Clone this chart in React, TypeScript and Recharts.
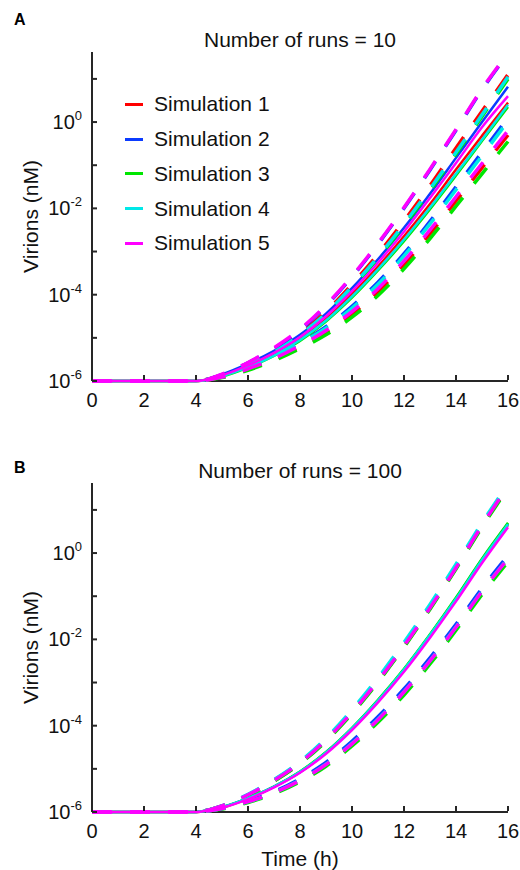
import { LineChart, Line, XAxis, YAxis, Legend, Label } from 'recharts';

const FONT = '"Liberation Sans", Arial, sans-serif';
const AXIS = '#262626';

const TIME = [0, 4, 4.5, 5, 6, 7, 8, 9, 10, 11, 12, 13, 14, 15, 16];
const X_TICKS = [0, 2, 4, 6, 8, 10, 12, 14, 16];
const Y_TICKS = [1e-6, 1e-5, 1e-4, 1e-3, 1e-2, 1e-1, 1, 10];

const SIM_NAMES = ['Simulation 1', 'Simulation 2', 'Simulation 3', 'Simulation 4', 'Simulation 5'];
const SIM_COLORS = ['#ff0000', '#0b3bff', '#00e600', '#00e8e8', '#ff00ff'];

// log10 of virions (nM), one row per simulation — panel A, 10 runs
const A_MEAN = [
  [-6, -6, -5.96, -5.88, -5.66, -5.38, -5.02, -4.56, -3.99, -3.35, -2.65, -1.9, -1.1, -0.32, 0.45],
  [-6, -6, -5.95, -5.85, -5.6, -5.3, -4.93, -4.44, -3.85, -3.18, -2.45, -1.66, -0.83, 0.0, 0.82],
  [-6, -6, -5.97, -5.9, -5.69, -5.42, -5.07, -4.62, -4.07, -3.44, -2.76, -2.02, -1.24, -0.44, 0.35],
  [-6, -6, -5.97, -5.89, -5.68, -5.41, -5.05, -4.6, -4.04, -3.41, -2.72, -1.98, -1.2, -0.41, 0.4],
  [-6, -6, -5.96, -5.87, -5.64, -5.35, -4.98, -4.5, -3.92, -3.26, -2.54, -1.76, -0.95, -0.12, 0.6],
];
const A_UPPER = [
  [-6, -6, -5.95, -5.86, -5.61, -5.3, -4.9, -4.39, -3.76, -3.06, -2.29, -1.47, -0.6, 0.25, 1.1],
  [-6, -6, -5.95, -5.85, -5.58, -5.25, -4.82, -4.26, -3.59, -2.83, -2.0, -1.11, -0.19, 0.75, 1.58],
  [-6, -6, -5.96, -5.88, -5.64, -5.34, -4.95, -4.45, -3.84, -3.15, -2.4, -1.59, -0.74, 0.13, 1.0],
  [-6, -6, -5.96, -5.87, -5.63, -5.33, -4.93, -4.43, -3.81, -3.12, -2.36, -1.55, -0.7, 0.17, 1.05],
  [-6, -6, -5.95, -5.84, -5.57, -5.23, -4.8, -4.24, -3.57, -2.81, -1.98, -1.09, -0.17, 0.77, 1.6],
];
const A_LOWER = [
  [-6, -6, -5.97, -5.91, -5.73, -5.5, -5.21, -4.87, -4.45, -3.93, -3.3, -2.59, -1.83, -1.06, -0.3],
  [-6, -6, -5.96, -5.89, -5.69, -5.43, -5.11, -4.74, -4.27, -3.71, -3.05, -2.3, -1.5, -0.7, 0.1],
  [-6, -6, -5.97, -5.92, -5.75, -5.53, -5.25, -4.93, -4.52, -4.02, -3.4, -2.7, -1.95, -1.2, -0.45],
  [-6, -6, -5.96, -5.9, -5.7, -5.45, -5.13, -4.77, -4.31, -3.76, -3.1, -2.36, -1.57, -0.78, 0.02],
  [-6, -6, -5.97, -5.91, -5.72, -5.48, -5.18, -4.83, -4.39, -3.86, -3.22, -2.5, -1.73, -0.96, -0.2],
];

// panel B, 100 runs
const B_MEAN = [
  [-6, -6, -5.96, -5.9, -5.69, -5.42, -5.08, -4.63, -4.08, -3.43, -2.72, -1.92, -1.08, -0.18, 0.65],
  [-6, -6, -5.96, -5.89, -5.68, -5.41, -5.07, -4.62, -4.06, -3.41, -2.7, -1.9, -1.05, -0.15, 0.68],
  [-6, -6, -5.96, -5.89, -5.68, -5.41, -5.06, -4.61, -4.05, -3.4, -2.68, -1.88, -1.03, -0.13, 0.7],
  [-6, -6, -5.96, -5.89, -5.68, -5.41, -5.07, -4.62, -4.06, -3.42, -2.7, -1.9, -1.06, -0.16, 0.67],
  [-6, -6, -5.96, -5.9, -5.7, -5.43, -5.09, -4.65, -4.1, -3.46, -2.75, -1.96, -1.12, -0.23, 0.6],
];
const B_UPPER = [
  [-6, -6, -5.95, -5.86, -5.61, -5.28, -4.87, -4.34, -3.7, -2.97, -2.16, -1.28, -0.35, 0.62, 1.53],
  [-6, -6, -5.95, -5.86, -5.6, -5.26, -4.85, -4.31, -3.66, -2.92, -2.11, -1.23, -0.3, 0.67, 1.57],
  [-6, -6, -5.95, -5.87, -5.62, -5.29, -4.88, -4.36, -3.72, -2.99, -2.18, -1.3, -0.37, 0.6, 1.5],
  [-6, -6, -5.95, -5.86, -5.59, -5.25, -4.83, -4.29, -3.63, -2.89, -2.07, -1.19, -0.26, 0.7, 1.6],
  [-6, -6, -5.95, -5.86, -5.6, -5.27, -4.86, -4.33, -3.69, -2.96, -2.15, -1.27, -0.34, 0.64, 1.55],
];
const B_LOWER = [
  [-6, -6, -5.97, -5.92, -5.76, -5.55, -5.26, -4.89, -4.41, -3.85, -3.21, -2.49, -1.71, -0.88, -0.12],
  [-6, -6, -5.97, -5.92, -5.75, -5.53, -5.23, -4.85, -4.36, -3.79, -3.15, -2.43, -1.65, -0.82, -0.06],
  [-6, -6, -5.97, -5.93, -5.78, -5.58, -5.3, -4.94, -4.47, -3.92, -3.29, -2.57, -1.79, -0.96, -0.2],
  [-6, -6, -5.97, -5.92, -5.76, -5.55, -5.26, -4.89, -4.41, -3.85, -3.21, -2.49, -1.71, -0.88, -0.12],
  [-6, -6, -5.97, -5.92, -5.76, -5.55, -5.27, -4.9, -4.42, -3.86, -3.22, -2.5, -1.72, -0.89, -0.13],
];

function buildRows(mean: number[][], upper: number[][], lower: number[][]) {
  return TIME.map((t, i) => {
    // `base` carries the x-axis baseline so it sits underneath the curves
    const row: Record<string, number> = { t, base: Y_TICKS[0] };
    SIM_NAMES.forEach((_, s) => {
      row[`m${s}`] = 10 ** mean[s][i];
      row[`u${s}`] = 10 ** upper[s][i];
      row[`l${s}`] = 10 ** lower[s][i];
    });
    return row;
  });
}

const YTick = ({ x, y, payload }: any) => {
  const exp = Math.round(Math.log10(payload.value));
  return (
    <g>
      <line x1={x} x2={x + 5} y1={y} y2={y} stroke={AXIS} strokeWidth={2} />
      {exp % 2 === 0 && (
        <text x={x - 10} y={y + 7} textAnchor="end" fontSize={20} fill="#111" fontFamily={FONT}>
          10
          <tspan dy={-9} fontSize={13}>
            {exp}
          </tspan>
        </text>
      )}
    </g>
  );
};

const XTick = ({ x, y, payload }: any) => (
  <g>
    <line x1={x} x2={x} y1={y - 1} y2={y - 6} stroke={AXIS} strokeWidth={2} />
    <text x={x} y={y + 26} textAnchor="middle" fontSize={20} fill="#111" fontFamily={FONT}>
      {payload.value}
    </text>
  </g>
);

const YLabel = ({ viewBox }: any) => {
  const cx = viewBox.x - 2;
  const cy = viewBox.y + viewBox.height / 2;
  return (
    <text
      x={cx}
      y={cy}
      transform={`rotate(-90 ${cx} ${cy})`}
      textAnchor="middle"
      dominantBaseline="central"
      fontSize={21}
      fill="#111"
      fontFamily={FONT}
    >
      Virions (nM)
    </text>
  );
};

const TimeLabel = ({ viewBox }: any) => (
  <text
    x={viewBox.x + viewBox.width / 2}
    y={viewBox.y + 46}
    textAnchor="middle"
    dominantBaseline="central"
    fontSize={21}
    fill="#111"
    fontFamily={FONT}
  >
    Time (h)
  </text>
);

const SimLegend = () => (
  <div style={{ fontFamily: FONT, fontSize: 21, color: '#111' }}>
    {SIM_NAMES.map((name, i) => (
      <div key={name} style={{ display: 'flex', alignItems: 'center', height: 34.75 }}>
        <span style={{ width: 18, height: 3, background: SIM_COLORS[i], marginRight: 11 }} />
        {name}
      </div>
    ))}
  </div>
);

function Panel({
  letter,
  title,
  rows,
  height,
  bottom,
  letterTop,
  showLegend,
  showTime,
}: {
  letter: string;
  title: string;
  rows: Record<string, number>[];
  height: number;
  bottom: number;
  letterTop: number;
  showLegend: boolean;
  showTime: boolean;
}) {
  return (
    <div style={{ position: 'relative', width: 520, height }}>
      <div
        style={{
          position: 'absolute',
          left: 14,
          top: letterTop,
          fontFamily: FONT,
          fontWeight: 700,
          fontSize: 16,
          lineHeight: '18px',
        }}
      >
        {letter}
      </div>
      <div
        style={{
          position: 'absolute',
          left: 92,
          width: 416,
          top: 28,
          textAlign: 'center',
          fontFamily: FONT,
          fontSize: 21,
          lineHeight: '24px',
          color: '#111',
        }}
      >
        {title}
      </div>
      <LineChart width={520} height={height} data={rows} margin={{ top: 52, right: 12, left: 32, bottom }}>
        <XAxis
          dataKey="t"
          type="number"
          domain={[0, 16]}
          ticks={X_TICKS}
          interval={0}
          height={30}
          tickSize={0}
          tickMargin={0}
          tickLine={false}
          tick={<XTick />}
          axisLine={false}
          label={showTime ? <Label content={<TimeLabel />} /> : undefined}
        />
        <YAxis
          type="number"
          scale="log"
          domain={[1e-6, 42]}
          ticks={Y_TICKS}
          interval={0}
          width={60}
          tickSize={0}
          tickMargin={0}
          tickLine={false}
          tick={<YTick />}
          axisLine={{ stroke: AXIS, strokeWidth: 2 }}
          label={<Label content={<YLabel />} />}
        />
        {showLegend && (
          <Legend
            layout="vertical"
            align="center"
            verticalAlign="middle"
            content={<SimLegend />}
            wrapperStyle={{ left: 125, top: 87, width: 'auto' }}
          />
        )}
        <Line
          dataKey="base"
          type="linear"
          stroke={AXIS}
          strokeWidth={2}
          dot={false}
          activeDot={false}
          legendType="none"
          isAnimationActive={false}
        />
        {SIM_NAMES.flatMap((name, s) => [
          <Line
            key={`m${s}`}
            dataKey={`m${s}`}
            name={name}
            type="monotone"
            stroke={SIM_COLORS[s]}
            strokeWidth={2.5}
            dot={false}
            activeDot={false}
            isAnimationActive={false}
          />,
          <Line
            key={`u${s}`}
            dataKey={`u${s}`}
            type="monotone"
            stroke={SIM_COLORS[s]}
            strokeWidth={3.5}
            strokeDasharray="20 18"
            dot={false}
            activeDot={false}
            legendType="none"
            isAnimationActive={false}
          />,
          <Line
            key={`l${s}`}
            dataKey={`l${s}`}
            type="monotone"
            stroke={SIM_COLORS[s]}
            strokeWidth={3.5}
            strokeDasharray="20 18"
            dot={false}
            activeDot={false}
            legendType="none"
            isAnimationActive={false}
          />,
        ])}
      </LineChart>
    </div>
  );
}

export default function App() {
  const rowsA = buildRows(A_MEAN, A_UPPER, A_LOWER);
  const rowsB = buildRows(B_MEAN, B_UPPER, B_LOWER);
  return (
    <div style={{ position: 'absolute', left: 0, top: 0, width: 520, height: 870, background: '#fff' }}>
      <Panel
        letter="A"
        title="Number of runs = 10"
        rows={rowsA}
        height={431}
        bottom={20}
        letterTop={11}
        showLegend
        showTime={false}
      />
      <Panel
        letter="B"
        title="Number of runs = 100"
        rows={rowsB}
        height={439}
        bottom={28}
        letterTop={28}
        showLegend={false}
        showTime
      />
    </div>
  );
}
